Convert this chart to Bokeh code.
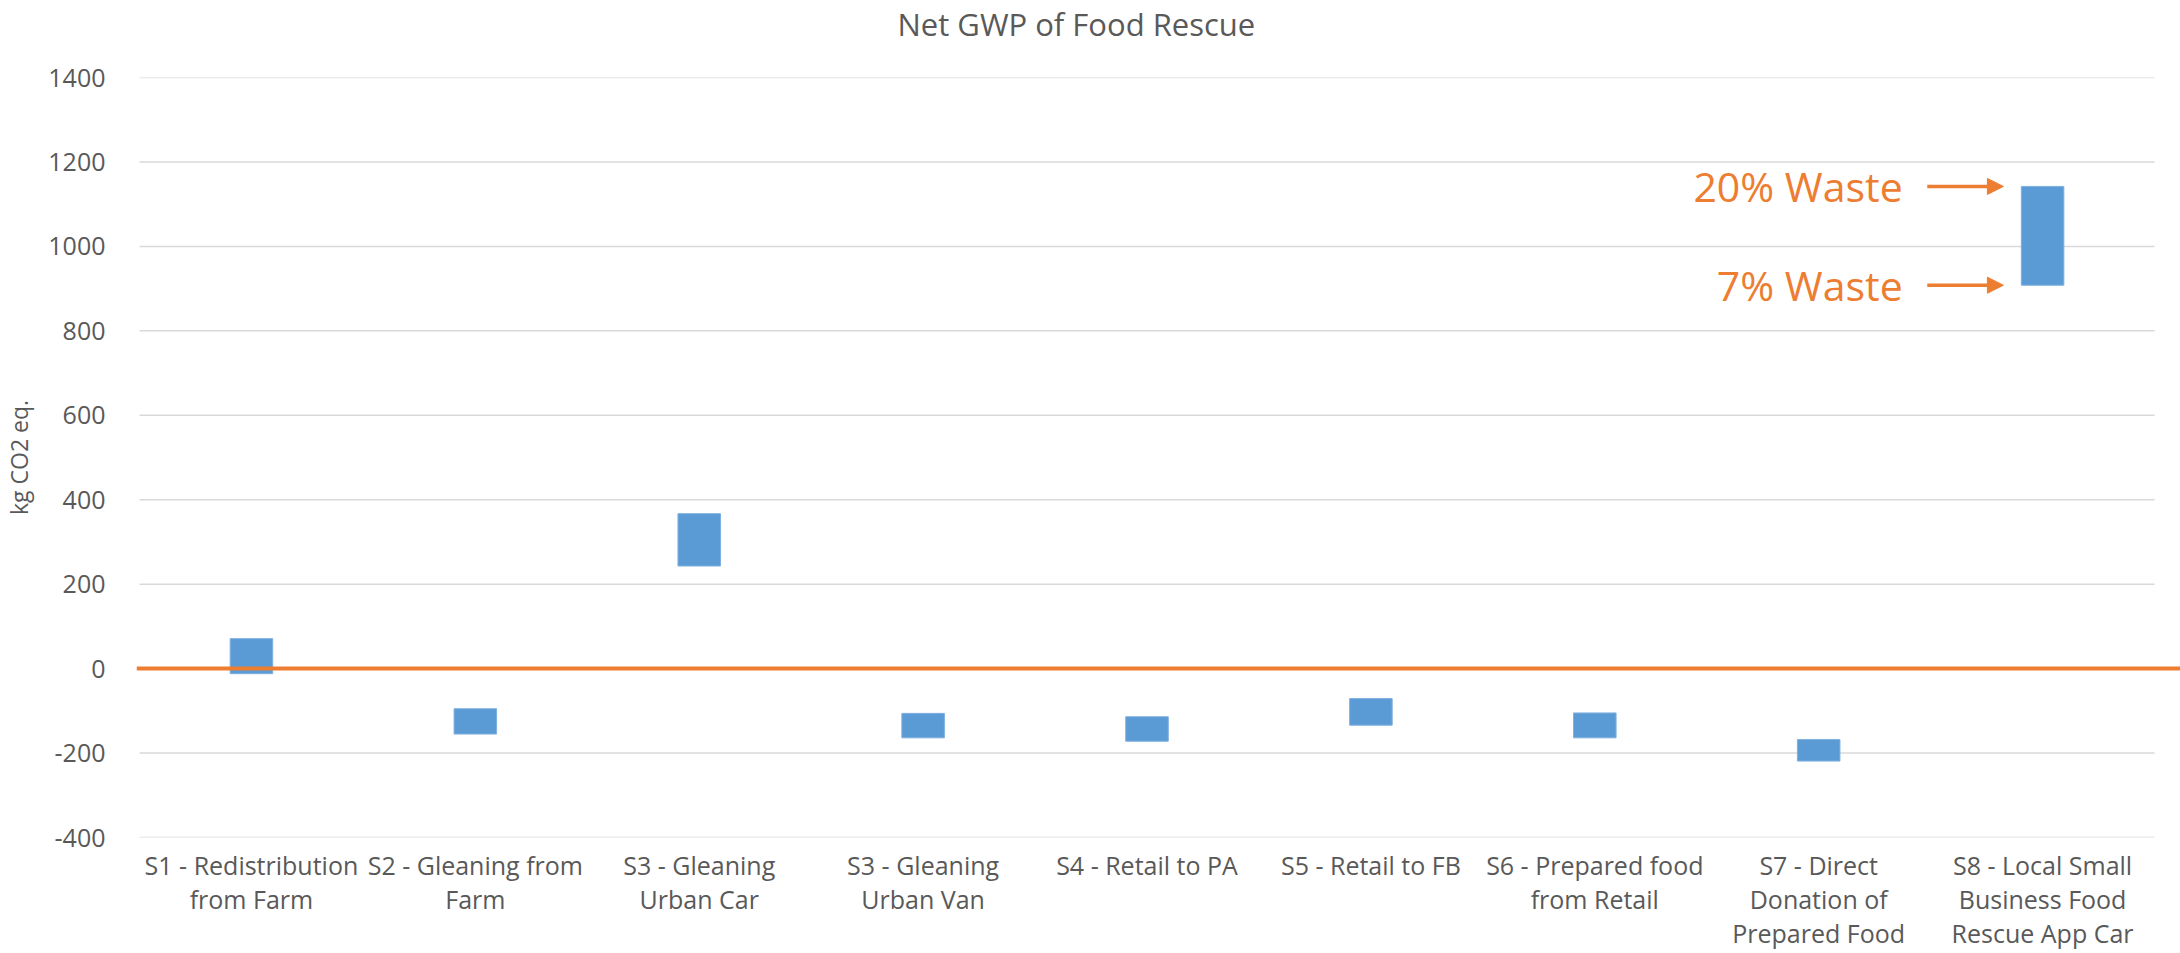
from bokeh.plotting import figure
from bokeh.models import Range1d, FixedTicker, Arrow, NormalHead, Label, Span, Title
from bokeh.embed import file_html
from bokeh.resources import INLINE

# ---- data -------------------------------------------------------------
title_text = "Net GWP of Food Rescue"
y_label = "kg CO2 eq."
categories = [
    "S1 - Redistribution\nfrom Farm",
    "S2 - Gleaning from\nFarm",
    "S3 - Gleaning\nUrban Car",
    "S3 - Gleaning\nUrban Van",
    "S4 - Retail to PA",
    "S5 - Retail to FB",
    "S6 - Prepared food\nfrom Retail",
    "S7 - Direct\nDonation of\nPrepared Food",
    "S8 - Local Small\nBusiness Food\nRescue App Car",
]
gwp_low = [-12, -155, 243, -164, -172, -134, -164, -219, 908]
gwp_high = [71, -95, 367, -106, -114, -71, -105, -168, 1142]
y_ticks = [-400, -200, 0, 200, 400, 600, 800, 1000, 1200, 1400]
waste_labels = ["20% Waste", "7% Waste"]

# ---- styling ----------------------------------------------------------
FONT = "Open Sans"
GREY = "#595959"
BLUE = "#5B9BD5"
ORANGE = "#ED7D31"
BAR_W = 0.19

n = len(categories)
xs = [i + 0.5 for i in range(n)]

p = figure(
    width=2180, height=953,
    x_range=Range1d(-0.0134, 9.116),
    y_range=Range1d(y_ticks[0], y_ticks[-1]),
    output_backend="svg", toolbar_location=None,
    min_border_left=135, min_border_right=0,
    min_border_top=77, min_border_bottom=116,
    background_fill_color="white", border_fill_color="white",
)
p.outline_line_color = None
p.xgrid.visible = False
p.ygrid.visible = False

# title: a thin spacer next to the frame, then the title text above it
p.add_layout(Title(text=" ", text_font_size="1px", standoff=30), "above")
p.add_layout(Title(text=title_text, text_font=FONT, text_font_size="31px",
                   text_font_style="normal", text_color=GREY, align="left",
                   offset=761, standoff=0), "above")

# horizontal gridlines across the category area only
p.segment(x0=0, x1=n, y0=y_ticks, y1=y_ticks, line_color="#D9D9D9", line_width=1.5)

# bars (floating ranges)
p.vbar(x=xs, bottom=gwp_low, top=gwp_high, width=BAR_W,
       fill_color=BLUE, line_color="#7DB0E0", line_width=1)

# zero line
p.add_layout(Span(location=0, dimension="width", line_color=ORANGE, line_width=4))

# annotations for last bar
bar_left = xs[-1] - BAR_W / 2
for lab, yv in zip(waste_labels, [gwp_high[-1], gwp_low[-1]]):
    p.add_layout(Arrow(
        end=NormalHead(size=16, fill_color=ORANGE, line_color=ORANGE, line_width=1),
        x_start=bar_left - 0.42, x_end=bar_left - 0.08, y_start=yv, y_end=yv,
        line_color=ORANGE, line_width=3.5))
    p.add_layout(Label(
        x=bar_left - 0.53, y=yv, text=lab, text_align="right", text_baseline="middle",
        text_font=FONT, text_font_size="41px", text_color=ORANGE))

# axes
for ax in (p.xaxis[0], p.yaxis[0]):
    ax.axis_line_color = None
    ax.major_tick_line_color = None
    ax.minor_tick_line_color = None
    ax.major_label_text_font = FONT
    ax.major_label_text_font_size = "25px"
    ax.major_label_text_color = GREY

p.yaxis.ticker = FixedTicker(ticks=y_ticks)
p.yaxis.major_label_overrides = {t: str(t) for t in y_ticks}
p.yaxis.major_label_standoff = 25
p.yaxis.axis_label = y_label
p.yaxis.axis_label_text_font = FONT
p.yaxis.axis_label_text_font_size = "23px"
p.yaxis.axis_label_text_font_style = "normal"
p.yaxis.axis_label_text_color = GREY
p.yaxis.axis_label_standoff = 10

p.xaxis.ticker = FixedTicker(ticks=xs)
p.xaxis.major_label_overrides = {x: c for x, c in zip(xs, categories)}
p.xaxis.major_label_standoff = 4
p.xaxis.major_label_text_line_height = 1.0

open("out.html", "w").write(file_html(p, INLINE))
